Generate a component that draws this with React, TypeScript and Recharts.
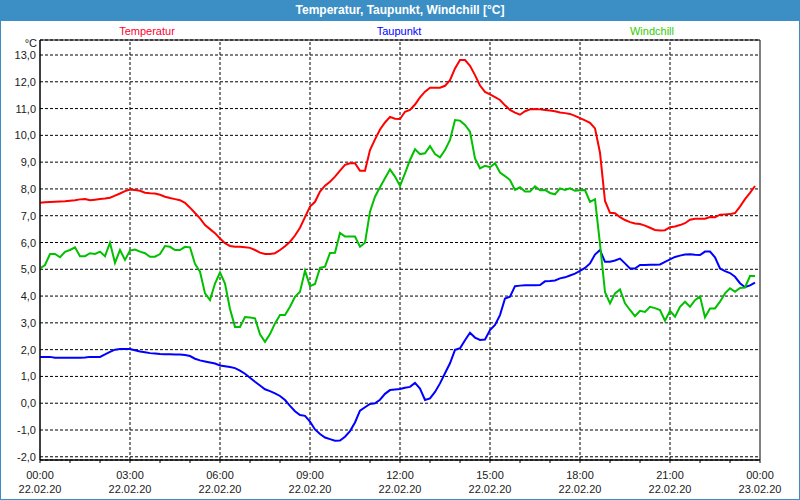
import React from 'react';
import { LineChart, Line, XAxis, YAxis, CartesianGrid, ReferenceLine, ReferenceArea } from 'recharts';

// Messzeitpunkte in Minuten seit 22.02.20 00:00 (10-Minuten-Raster)
const minutes = [
  0, 10, 20, 30, 40, 50, 60, 70, 80, 90, 100, 110,
  120, 130, 140, 150, 160, 170, 180, 190, 200, 210, 220, 230,
  240, 250, 260, 270, 280, 290, 300, 310, 320, 330, 340, 350,
  360, 370, 380, 390, 400, 410, 420, 430, 440, 450, 460, 470,
  480, 490, 500, 510, 520, 530, 540, 550, 560, 570, 580, 590,
  600, 610, 620, 630, 640, 650, 660, 670, 680, 690, 700, 710,
  720, 730, 740, 750, 760, 770, 780, 790, 800, 810, 820, 830,
  840, 850, 860, 870, 880, 890, 900, 910, 920, 930, 940, 950,
  960, 970, 980, 990, 1000, 1010, 1020, 1030, 1040, 1050, 1060, 1070,
  1080, 1090, 1100, 1110, 1120, 1130, 1140, 1150, 1160, 1170, 1180, 1190,
  1200, 1210, 1220, 1230, 1240, 1250, 1260, 1270, 1280, 1290, 1300, 1310,
  1320, 1330, 1340, 1350, 1360, 1370, 1380, 1390, 1400, 1410, 1420, 1430,
];

const temperatur = [
  7.48, 7.50, 7.51, 7.52, 7.53, 7.54, 7.56, 7.58, 7.61, 7.62,
  7.58, 7.60, 7.62, 7.64, 7.67, 7.75, 7.83, 7.92, 7.98, 7.96,
  7.93, 7.86, 7.84, 7.83, 7.78, 7.71, 7.66, 7.62, 7.58, 7.48,
  7.30, 7.10, 6.90, 6.65, 6.50, 6.35, 6.15, 5.97, 5.87, 5.84,
  5.84, 5.82, 5.80, 5.72, 5.62, 5.57, 5.57, 5.60, 5.72, 5.86,
  6.03, 6.26, 6.55, 6.95, 7.34, 7.52, 7.90, 8.12, 8.27, 8.46,
  8.68, 8.90, 8.96, 8.96, 8.68, 8.68, 9.45, 9.85, 10.22, 10.48,
  10.69, 10.62, 10.61, 10.88, 10.95, 11.15, 11.42, 11.63, 11.78, 11.78,
  11.78, 11.85, 12.06, 12.50, 12.81, 12.81, 12.60, 12.25, 11.86, 11.62,
  11.53, 11.43, 11.32, 11.12, 10.95, 10.85, 10.77, 10.90, 10.97, 10.98,
  10.97, 10.95, 10.93, 10.90, 10.85, 10.83, 10.80, 10.73, 10.64, 10.56,
  10.47, 10.26, 9.35, 7.55, 7.11, 7.09, 6.95, 6.84, 6.76, 6.71,
  6.69, 6.63, 6.55, 6.47, 6.45, 6.46, 6.57, 6.60, 6.65, 6.72,
  6.85, 6.89, 6.89, 6.89, 6.95, 6.94, 7.04, 7.05, 7.06, 7.10,
  7.34, 7.62, 7.85, 8.11,
];

const taupunkt = [
  1.73, 1.73, 1.73, 1.70, 1.70, 1.70, 1.70, 1.70, 1.70, 1.71,
  1.73, 1.73, 1.73, 1.82, 1.92, 2.00, 2.02, 2.02, 2.02, 1.98,
  1.93, 1.90, 1.87, 1.86, 1.84, 1.83, 1.83, 1.82, 1.82, 1.80,
  1.76, 1.66, 1.60, 1.56, 1.52, 1.48, 1.41, 1.38, 1.35, 1.31,
  1.22, 1.10, 0.95, 0.80, 0.66, 0.52, 0.45, 0.37, 0.27, 0.12,
  -0.10, -0.30, -0.44, -0.47, -0.69, -0.98, -1.15, -1.28, -1.34, -1.40,
  -1.39, -1.25, -1.04, -0.72, -0.28, -0.15, -0.03, 0.00, 0.13, 0.35,
  0.49, 0.51, 0.53, 0.58, 0.61, 0.76, 0.55, 0.12, 0.18, 0.42,
  0.74, 1.12, 1.49, 1.99, 2.05, 2.35, 2.63, 2.45, 2.36, 2.38,
  2.73, 2.92, 3.29, 3.91, 3.98, 4.37, 4.39, 4.40, 4.40, 4.40,
  4.41, 4.55, 4.56, 4.58, 4.66, 4.70, 4.77, 4.84, 4.94, 5.05,
  5.22, 5.55, 5.72, 5.28, 5.28, 5.33, 5.40, 5.22, 5.03, 5.03,
  5.16, 5.16, 5.17, 5.17, 5.18, 5.28, 5.37, 5.46, 5.51, 5.55,
  5.56, 5.54, 5.53, 5.66, 5.66, 5.45, 5.03, 4.93, 4.86, 4.72,
  4.48, 4.33, 4.40, 4.50,
];

const windchill = [
  5.03, 5.16, 5.57, 5.57, 5.45, 5.65, 5.72, 5.82, 5.49, 5.49,
  5.60, 5.57, 5.66, 5.49, 5.99, 5.24, 5.72, 5.35, 5.70, 5.74,
  5.66, 5.60, 5.47, 5.47, 5.57, 5.87, 5.84, 5.72, 5.72, 5.84,
  5.82, 5.20, 4.91, 4.10, 3.85, 4.47, 4.88, 4.47, 3.52, 2.85,
  2.85, 3.22, 3.20, 3.17, 2.57, 2.29, 2.58, 2.98, 3.29, 3.29,
  3.60, 3.97, 4.16, 4.95, 4.37, 4.45, 5.05, 5.10, 5.61, 5.62,
  6.36, 6.22, 6.22, 6.22, 5.84, 5.99, 7.15, 7.71, 8.06, 8.40,
  8.73, 8.46, 8.11, 8.58, 9.08, 9.48, 9.30, 9.33, 9.60, 9.30,
  9.18, 9.45, 9.83, 10.57, 10.55, 10.39, 10.14, 9.14, 8.77, 8.86,
  8.81, 8.96, 8.61, 8.48, 8.33, 7.96, 8.06, 7.90, 7.90, 8.10,
  7.95, 7.96, 7.85, 7.80, 8.02, 7.96, 8.02, 7.93, 7.95, 7.96,
  7.52, 7.61, 5.95, 4.15, 3.73, 4.10, 4.25, 3.73, 3.48, 3.25,
  3.45, 3.41, 3.60, 3.55, 3.48, 3.08, 3.45, 3.23, 3.60, 3.79,
  3.60, 3.85, 3.99, 3.21, 3.54, 3.54, 3.79, 4.10, 4.29, 4.16,
  4.30, 4.32, 4.75, 4.75,
];

const yTicks = [-2, -1, 0, 1, 2, 3, 4, 5, 6, 7, 8, 9, 10, 11, 12, 13];
const hourTicks = [0, 1, 2, 3, 4, 5, 6, 7, 8, 9, 10, 11, 12, 13, 14, 15, 16, 17, 18, 19, 20, 21, 22, 23, 24];
const gridHours = [3, 6, 9, 12, 15, 18, 21];
const tickTimes = ['00:00', '03:00', '06:00', '09:00', '12:00', '15:00', '18:00', '21:00', '00:00'];
const tickDates = ['22.02.20', '22.02.20', '22.02.20', '22.02.20', '22.02.20', '22.02.20', '22.02.20', '22.02.20', '23.02.20'];

const Y_MIN = -2.12;
const Y_MAX = 13.56;

const data = minutes.map((m, i) => ({
  t: m / 60,
  temperatur: temperatur[i],
  taupunkt: taupunkt[i],
  windchill: windchill[i],
}));

const FONT = '"Liberation Sans", Arial, sans-serif';
const TEXT = '#1a1a1a';
const FRAME = '#3c8fc5';

const XTick = ({ x, y, payload }: any) => {
  const h = payload.value;
  const idx = h % 3 === 0 ? h / 3 : -1;
  return (
    <g>
      <line x1={x} y1={y} x2={x} y2={y + 3} stroke="#000" />
      {idx >= 0 && (
        <>
          <text x={x} y={y + 19} textAnchor="middle" fontSize={11} fontFamily={FONT} fill={TEXT}>
            {tickTimes[idx]}
          </text>
          <text x={x} y={y + 33} textAnchor="middle" fontSize={11} fontFamily={FONT} fill={TEXT}>
            {tickDates[idx]}
          </text>
        </>
      )}
    </g>
  );
};

const YTick = ({ x, y, payload }: any) => (
  <text x={x} y={y + 4} textAnchor="end" fontSize={11} fontFamily={FONT} fill={TEXT}>
    {payload.value.toFixed(1).replace('.', ',')}
  </text>
);

const legendItems = [
  { label: 'Temperatur', color: '#ff0033', center: 147 },
  { label: 'Taupunkt', color: '#0000ff', center: 399 },
  { label: 'Windchill', color: '#33cc00', center: 652 },
];

export default function App() {
  return (
    <div style={{ position: 'absolute', left: 0, top: 0, width: 800, height: 500, background: '#fff', overflow: 'hidden' }}>
      <div
        style={{
          position: 'absolute', left: 0, top: 0, width: 800, height: 21, background: FRAME,
          color: '#fff', fontFamily: FONT, fontWeight: 'bold', fontSize: 12, lineHeight: '21px', textAlign: 'center',
        }}
      >
        Temperatur, Taupunkt, Windchill [°C]
      </div>

      {legendItems.map((it) => (
        <div
          key={it.label}
          style={{
            position: 'absolute', top: 25, left: it.center - 100, width: 200, textAlign: 'center',
            fontFamily: FONT, fontSize: 11, lineHeight: '13px', color: it.color,
          }}
        >
          {it.label}
        </div>
      ))}

      <div
        style={{
          position: 'absolute', top: 37, left: 0, width: 37, textAlign: 'right',
          fontFamily: FONT, fontSize: 11, lineHeight: '13px', color: TEXT,
        }}
      >
        °C
      </div>

      <div style={{ position: 'absolute', left: 0, top: 0 }}>
        <LineChart width={800} height={500} data={data} margin={{ top: 40, right: 40, bottom: 0, left: 0 }}>
          <CartesianGrid vertical={false} stroke="#000" strokeDasharray="3 2" />
          {gridHours.map((h) => (
            <ReferenceLine key={h} x={h} stroke="#000" strokeDasharray="3 2" />
          ))}
          <ReferenceArea x1={0} x2={24} y1={Y_MIN} y2={Y_MAX} fill="none" fillOpacity={0} stroke="#000" />
          <XAxis
            type="number"
            dataKey="t"
            domain={[0, 24]}
            ticks={hourTicks}
            interval={0}
            height={40}
            tickSize={0}
            tickMargin={0}
            tickLine={false}
            axisLine={{ stroke: '#000' }}
            tick={<XTick />}
          />
          <YAxis
            type="number"
            domain={[Y_MIN, Y_MAX]}
            ticks={yTicks}
            interval={0}
            allowDataOverflow
            width={40}
            tickSize={0}
            tickMargin={4}
            tickLine={false}
            axisLine={{ stroke: '#000' }}
            tick={<YTick />}
          />
          <Line type="linear" dataKey="temperatur" stroke="#ff0000" strokeWidth={2} dot={false} isAnimationActive={false} />
          <Line type="linear" dataKey="taupunkt" stroke="#0000ff" strokeWidth={2} dot={false} isAnimationActive={false} />
          <Line type="linear" dataKey="windchill" stroke="#00c000" strokeWidth={2} dot={false} isAnimationActive={false} />
        </LineChart>
      </div>

      <div
        style={{
          position: 'absolute', left: 0, top: 0, width: 800, height: 500, boxSizing: 'border-box',
          border: `1px solid ${FRAME}`, pointerEvents: 'none',
        }}
      />
    </div>
  );
}
